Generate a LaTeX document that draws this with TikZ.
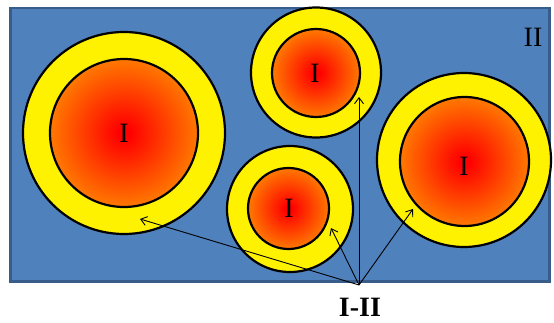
\documentclass[tikz,border=0pt]{standalone}
\usepackage{fontspec}
\setmainfont{Liberation Serif}
\usetikzlibrary{arrows.meta}
\definecolor{bgblue}{HTML}{4F81BD}
\definecolor{bordblue}{HTML}{385D8A}
\definecolor{edgeorange}{HTML}{FFA800}
\definecolor{corered}{HTML}{FF0000}
\pgfdeclareradialshading{hotcore}{\pgfpoint{0bp}{0bp}}{color(0bp)=(corered); color(2bp)=(corered); color(34bp)=(edgeorange); color(50bp)=(edgeorange)}
\begin{document}
\begin{tikzpicture}[x=1pt,y=-1pt,
  outerring/.style={circle,draw=black,line width=2.2pt,fill=yellow,inner sep=0pt},
  core/.style={circle,draw=black,line width=2.2pt,inner sep=0pt,shading=hotcore},
  lbl/.style={font=\fontsize{28}{30}\selectfont,inner sep=0pt},
  arr/.style={-{Straight Barb[length=6pt,width=9pt]},line width=0.9pt}]
\useasboundingbox (0,0) rectangle (554,323);
\node[draw=bordblue,fill=bgblue,line width=2.5pt,minimum width=539pt,minimum height=273pt,inner sep=0pt,anchor=north west] (box) at (9,7) {};
% rings
\node[outerring,minimum size=202pt] (o1) at (124,133) {};
\node[core,minimum size=148pt] (c1) at (124,133) {};
\node[outerring,minimum size=130pt] (o2) at (316,72.5) {};
\node[core,minimum size=88pt] (c2) at (316,73) {};
\node[outerring,minimum size=126pt] (o3) at (290,209) {};
\node[core,minimum size=81pt] (c3) at (288.5,208.5) {};
\node[outerring,minimum size=174pt] (o4) at (464,160) {};
\node[core,minimum size=129pt] (c4) at (464.5,161.5) {};
% labels
\node[lbl] (l1) at (124,133) {I};
\node[lbl] (l2) at (315,73) {I};
\node[lbl] (l3) at (289,208) {I};
\node[lbl] (l4) at (464,166) {I};
\node[lbl] (l5) at (533,37) {II};
\node[lbl,font=\fontsize{28}{30}\selectfont\bfseries] (l6) at (360,307) {I-II};
% arrows
\coordinate (src) at (359,285);
\coordinate (t1) at (140,219);
\coordinate (t2) at (331,228);
\coordinate (t3) at (359,97);
\coordinate (t4) at (413,209);
\draw[arr] (src) -- (t1);
\draw[arr] (src) -- (t2);
\draw[arr] (src) -- (t3);
\draw[arr] (src) -- (t4);
\end{tikzpicture}
\end{document}
